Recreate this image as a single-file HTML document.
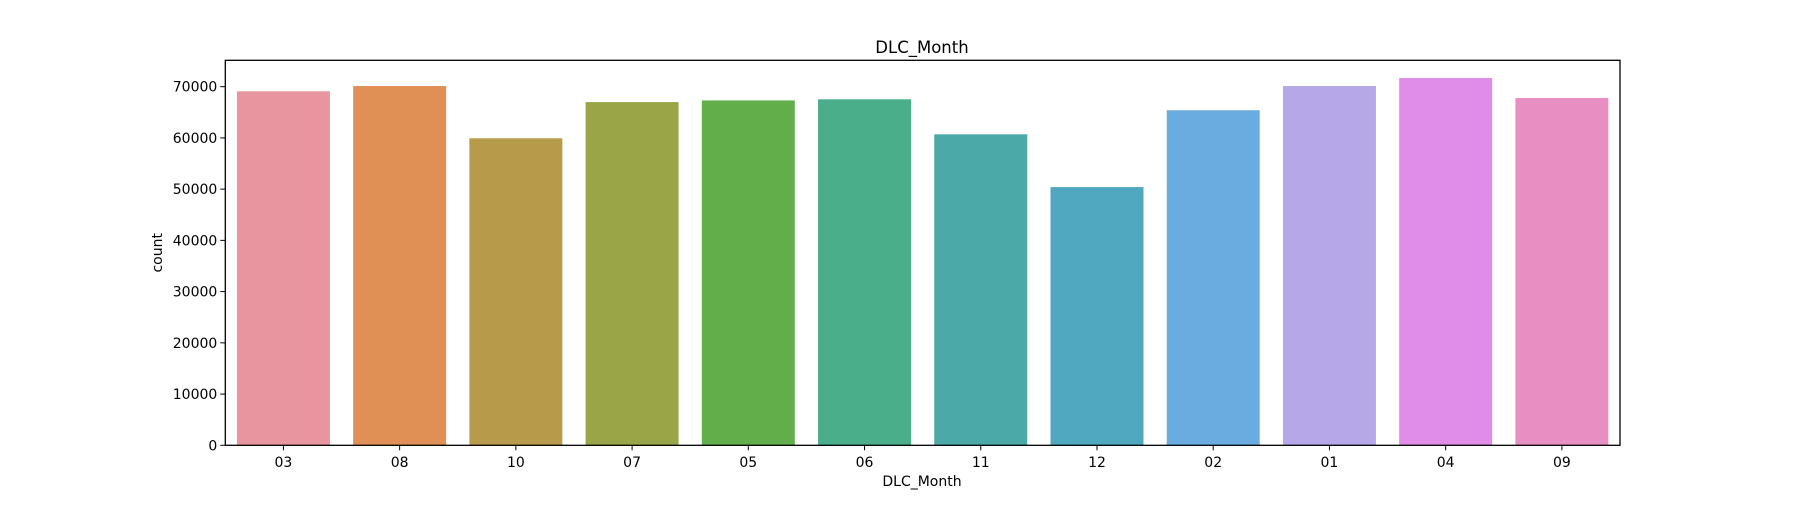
<!DOCTYPE html>
<html><head><meta charset="utf-8"><style>
html,body{margin:0;padding:0;background:#fff;}
svg text{font-family:"DejaVu Sans","Liberation Sans",sans-serif;fill:#000;}
</style></head><body>
<svg id="chart" width="1800" height="500" viewBox="0 0 1800 500">
<text x="922" y="53" font-size="16.5" text-anchor="middle">DLC_Month</text>
<text x="922" y="486" font-size="14" text-anchor="middle">DLC_Month</text>
<text transform="translate(162,252.8) rotate(-90)" font-size="14" text-anchor="middle">count</text>
<g id="bars"></g><g id="ticks"></g>
<rect x="225.3" y="60.3" width="1394.7" height="385" fill="none" stroke="#000" stroke-width="1.3"/>
</svg>
<script>
const categories = ["03","08","10","07","05","06","11","12","02","01","04","09"];
const counts = [69100,70130,59930,67000,67320,67540,60700,50400,65400,70130,71700,67790];
const yTicks = [0,10000,20000,30000,40000,50000,60000,70000];
const colors = ["#e8959f","#e09055","#b89b4a","#9aa548","#61ae4a","#4aae8b","#4baaa8","#4fa8bf","#6aacdf","#b6a7e9","#df8de8","#e78fc3"];
const L=225.3,R=1620,T=60.3,B=445.3,YMAX=75150;
const NS="http://www.w3.org/2000/svg";
function y(v){return B-(B-T)*v/YMAX;}
const band=(R-L)/categories.length;
function x(i){return L+band*i;}
const bars=document.getElementById('bars'),ticks=document.getElementById('ticks');
categories.forEach((c,i)=>{
  const r=document.createElementNS(NS,'rect');
  r.setAttribute('x',x(i)+band*0.1);r.setAttribute('width',band*0.8);
  r.setAttribute('y',y(counts[i]));r.setAttribute('height',B-y(counts[i]));
  r.setAttribute('fill',colors[i]);
  
  
  bars.appendChild(r);
  const cx=x(i)+band/2;
  const l=document.createElementNS(NS,'line');
  l.setAttribute('x1',cx);l.setAttribute('x2',cx);l.setAttribute('y1',B);l.setAttribute('y2',B+5);l.setAttribute('stroke','#000');
  
  
  ticks.appendChild(l);
  const t=document.createElementNS(NS,'text');
  t.setAttribute('x',cx);t.setAttribute('y',467);t.setAttribute('font-size','14');t.setAttribute('text-anchor','middle');
  t.textContent=c;
  
  
  ticks.appendChild(t);
});
yTicks.forEach(v=>{
  const yy=y(v);
  const l=document.createElementNS(NS,'line');
  l.setAttribute('x1',L-5);l.setAttribute('x2',L);l.setAttribute('y1',yy);l.setAttribute('y2',yy);l.setAttribute('stroke','#000');
  
  
  ticks.appendChild(l);
  const t=document.createElementNS(NS,'text');
  t.setAttribute('x',L-8);t.setAttribute('y',yy+5);t.setAttribute('font-size','14');t.setAttribute('text-anchor','end');
  t.textContent=String(v);
  
  
  ticks.appendChild(t);
});
</script>
</body></html>
